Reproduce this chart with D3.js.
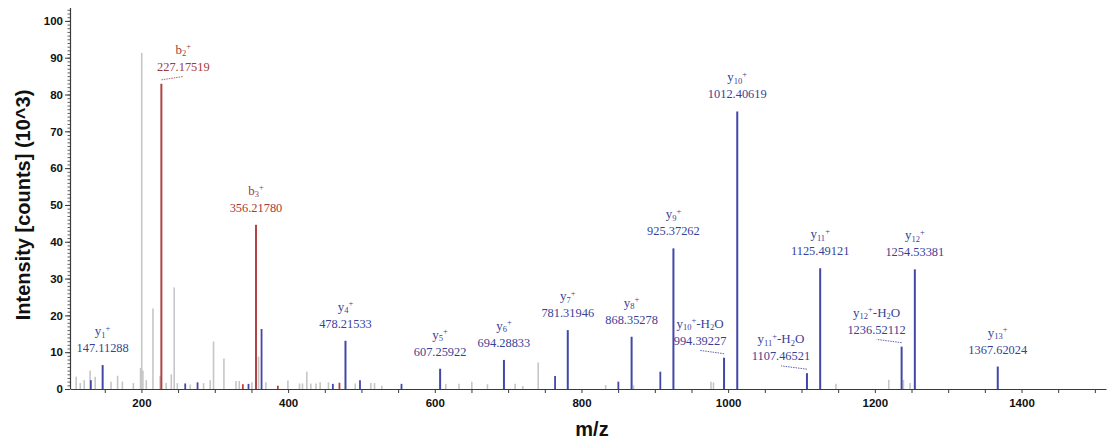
<!DOCTYPE html>
<html>
<head>
<meta charset="utf-8">
<script src="https://cdn.jsdelivr.net/npm/d3@7"></script>
<style>
  html, body { margin: 0; padding: 0; background: #fff; }
  svg { display: block; }
</style>
</head>
<body>
<svg id="chart" width="1108" height="441"></svg>
<script>
// ---------------- DATA ----------------
// Annotated fragment ions (blue y-series)
const yIonMz  = [147.11288, 478.21533, 607.25922, 694.28833, 781.31946, 868.35278, 925.37262, 994.39227, 1012.40619, 1107.46521, 1125.49121, 1236.52112, 1254.53381, 1367.62024];
const yIonInt = [6.5, 13.1, 5.5, 7.9, 16.0, 14.2, 38.2, 8.5, 75.4, 4.3, 32.8, 11.5, 32.5, 6.1];
const yIonNum = [1, 4, 5, 6, 7, 8, 9, 10, 10, 11, 11, 12, 12, 13];
const yIonLoss = ["", "", "", "", "", "", "", "H2O", "", "H2O", "", "H2O", "", ""];

// Annotated fragment ions (red b-series)
const bIonMz  = [227.17519, 356.21780];
const bIonInt = [82.9, 44.6];
const bIonNum = [2, 3];
const bIonLoss = ["", ""];

// Unannotated matched peaks
const blueMinorMz  = [131, 259.7, 276.5, 346, 363.8, 461, 498, 554.6, 764, 850.3, 907.5];
const blueMinorInt = [2.4, 1.5, 1.8, 1.4, 16.3, 1.4, 2.4, 1.4, 3.5, 2.0, 4.7];
const redMinorMz  = [338.3, 386, 470];
const redMinorInt = [1.3, 0.9, 1.7];

// Unmatched (grey) peaks
const noiseMz  = [111, 116.6, 122, 130, 137, 158.5, 167.5, 174, 189, 198.8, 200.4, 202, 206.6, 215.7, 225.5, 233.7, 240.7, 244.7, 249, 266.5, 284.7, 293.8, 298.3, 312.5, 329, 333.4, 350.6, 359.7, 369.7, 399.7, 415.5, 419.6, 425.5, 431, 438, 443.7, 455, 491.5, 512.8, 517.8, 527.8, 615, 633, 650.5, 671.8, 709.5, 720, 741, 833, 871, 976.6, 980, 1147, 1219, 1239, 1248];
const noiseInt = [3.3, 1.6, 2.4, 5.0, 3.3, 2.0, 3.6, 2.0, 1.6, 5.7, 91.3, 5.0, 2.4, 21.9, 3.6, 1.6, 4.0, 27.6, 1.6, 1.2, 1.6, 2.4, 12.9, 8.3, 2.2, 2.2, 1.8, 8.8, 1.8, 2.3, 1.5, 1.5, 4.7, 1.5, 1.5, 1.8, 1.8, 1.5, 1.6, 1.6, 0.9, 1.4, 1.4, 2.0, 1.3, 1.4, 0.8, 7.2, 1.1, 1.0, 2.0, 1.8, 1.4, 2.5, 2.5, 1.6];

// Axis ticks
const xMajorTicks = [200, 400, 600, 800, 1000, 1200, 1400];
const xMinorTicks = d3.range(150, 1501, 50);
const yMajorTicks = [0, 10, 20, 30, 40, 50, 60, 70, 80, 90, 100];
const yMinorTicks = d3.range(0, 104, 1);
const xTitle = "m/z";
const yTitle = "Intensity [counts] (10^3)";

// ---------------- LAYOUT / STYLE ----------------
const W = 1108, H = 441;
const plot = { left: 70, right: 1106, top: 8, bottom: 389 };
const BLUE = "#4347a8", BLUE_TXT = "#3a3f98";
const RED = "#b04444", RED_TXT = "#a33a3a";
const GREY = "#c6c6c6";
const AXIS = "#3a3a3a";
// labels that are shifted aside with a leader line (layout only)
const leaderShift = { "b2": 22, "y10H2O": -24, "y11H2O": -26, "y12H2O": -25 };

const svg = d3.select("#chart");
svg.append("rect").attr("width", W).attr("height", H).attr("fill", "#fff");

const x = d3.scaleLinear().domain([102.6, 1515.2]).range([plot.left, plot.right]);
const y = d3.scaleLinear().domain([0, 103.5]).range([plot.bottom, plot.top]);

// ---------------- PEAKS ----------------
function drawPeaks(mz, inten, color, width, cls) {
  svg.append("g").attr("class", cls)
    .selectAll("line").data(d3.zip(mz, inten)).join("line")
    .attr("x1", d => x(d[0])).attr("x2", d => x(d[0]))
    .attr("y1", y(0)).attr("y2", d => y(d[1]))
    .attr("stroke", color).attr("stroke-width", width);
}
drawPeaks(noiseMz, noiseInt, GREY, 1.6, "noise");
drawPeaks(blueMinorMz, blueMinorInt, BLUE, 1.8, "blue-minor");
drawPeaks(redMinorMz, redMinorInt, RED, 1.8, "red-minor");
drawPeaks(yIonMz, yIonInt, BLUE, 2, "y-ions");
drawPeaks(bIonMz, bIonInt, RED, 2, "b-ions");

// ---------------- AXES ----------------
const gx = svg.append("g").attr("transform", `translate(0,${plot.bottom})`);
gx.call(d3.axisBottom(x).tickValues(xMinorTicks).tickSize(4).tickSizeOuter(0)
  .tickFormat(d => xMajorTicks.includes(d) ? d : ""));
gx.select(".domain").attr("stroke", AXIS).attr("stroke-width", 1.2);
gx.selectAll(".tick line").attr("stroke", AXIS);
gx.selectAll(".tick text").attr("fill", "#111")
  .style("font-family", "'Liberation Sans', Arial, sans-serif")
  .style("font-size", "11.5px").style("font-weight", "bold").attr("dy", "0.95em");

const gyMinor = svg.append("g").attr("transform", `translate(${plot.left},0)`);
gyMinor.call(d3.axisLeft(y).tickValues(yMinorTicks).tickSize(2.5).tickSizeOuter(0).tickFormat(""));
gyMinor.select(".domain").remove();
gyMinor.selectAll(".tick line").attr("stroke", AXIS).attr("stroke-width", 0.8);

const gy = svg.append("g").attr("transform", `translate(${plot.left},0)`);
gy.call(d3.axisLeft(y).tickValues(yMajorTicks).tickSize(5).tickSizeOuter(0).tickPadding(2));
gy.select(".domain").attr("stroke", AXIS).attr("stroke-width", 1.2)
  .attr("d", `M0.5,${plot.top}V${plot.bottom}`);
gy.selectAll(".tick line").attr("stroke", AXIS);
gy.selectAll(".tick text").attr("fill", "#111")
  .style("font-family", "'Liberation Sans', Arial, sans-serif")
  .style("font-size", "11.5px").style("font-weight", "bold");

svg.append("text").text(xTitle)
  .attr("x", 592).attr("y", 436).attr("text-anchor", "middle")
  .style("font-family", "'Liberation Sans', Arial, sans-serif")
  .style("font-size", "20px").style("font-weight", "bold").attr("fill", "#111");

svg.append("text").text(yTitle)
  .attr("transform", "translate(30,205) rotate(-90)").attr("text-anchor", "middle")
  .style("font-family", "'Liberation Sans', Arial, sans-serif")
  .style("font-size", "20px").style("font-weight", "bold").attr("fill", "#111");

// ---------------- ANNOTATIONS ----------------
const fmt = d3.format(".5f");
const annotations = []
  .concat(yIonMz.map((m, i) => ({ ion: "y", num: yIonNum[i], loss: yIonLoss[i], mz: m, int: yIonInt[i], color: BLUE_TXT })))
  .concat(bIonMz.map((m, i) => ({ ion: "b", num: bIonNum[i], loss: bIonLoss[i], mz: m, int: bIonInt[i], color: RED_TXT })));

const ag = svg.append("g").attr("class", "annotations")
  .style("font-family", "'Liberation Serif', 'Times New Roman', serif");

annotations.forEach(a => {
  const px = x(a.mz), top = y(a.int);
  const key = a.ion + a.num + a.loss;
  const shift = leaderShift[key] || 0;
  const lx = px + shift;
  const valBase = top - 13.0;
  const nameBase = valBase - 17;

  // value line
  ag.append("text").text(fmt(a.mz))
    .attr("x", lx).attr("y", valBase).attr("text-anchor", "middle")
    .attr("fill", a.color).style("font-size", "12.4px");

  // ion name line with sub/superscripts
  const t = ag.append("text").attr("x", lx).attr("y", nameBase)
    .attr("text-anchor", "middle").attr("fill", a.color).style("font-size", "13px");
  t.append("tspan").text(a.ion);
  t.append("tspan").text(String(a.num)).style("font-size", "8.5px").attr("dy", 2.5);
  t.append("tspan").text("+").style("font-size", "8.5px").attr("dy", -7);
  if (a.loss) {
    t.append("tspan").text("-H").attr("dy", 4.5);
    t.append("tspan").text("2").style("font-size", "8.5px").attr("dy", 2.5);
    t.append("tspan").text("O").attr("dy", -2.5);
  }

  if (shift !== 0) {
    ag.append("line")
      .attr("x1", px).attr("y1", top - 4)
      .attr("x2", lx).attr("y2", top - 7.3)
      .attr("stroke", a.color).attr("stroke-width", 1)
      .attr("stroke-dasharray", "1.5,1").attr("opacity", 0.8);
  }
});
</script>
</body>
</html>
